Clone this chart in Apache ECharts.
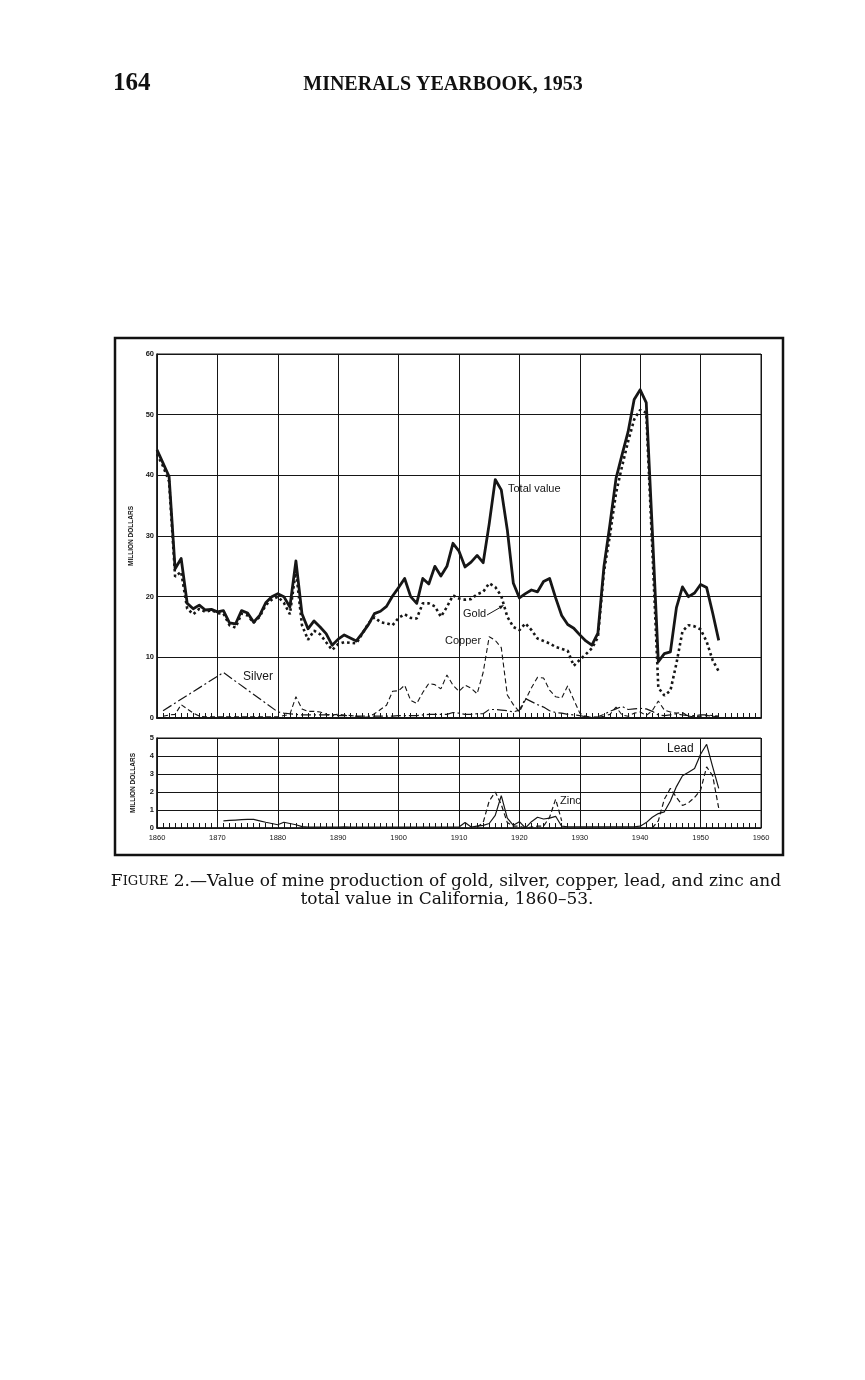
<!DOCTYPE html>
<html>
<head>
<meta charset="utf-8">
<script src="https://cdn.jsdelivr.net/npm/echarts@6/dist/echarts.min.js"></script>
<style>
  html, body { margin: 0; padding: 0; background: #fff; }
  #chart { width: 865px; height: 1380px; }
</style>
</head>
<body>
<div id="chart"></div>
<script>
// years 1860 - 1953
const years = [
  1860, 1861, 1862, 1863, 1864, 1865, 1866, 1867, 1868, 1869,
  1870, 1871, 1872, 1873, 1874, 1875, 1876, 1877, 1878, 1879,
  1880, 1881, 1882, 1883, 1884, 1885, 1886, 1887, 1888, 1889,
  1890, 1891, 1892, 1893, 1894, 1895, 1896, 1897, 1898, 1899,
  1900, 1901, 1902, 1903, 1904, 1905, 1906, 1907, 1908, 1909,
  1910, 1911, 1912, 1913, 1914, 1915, 1916, 1917, 1918, 1919,
  1920, 1921, 1922, 1923, 1924, 1925, 1926, 1927, 1928, 1929,
  1930, 1931, 1932, 1933, 1934, 1935, 1936, 1937, 1938, 1939,
  1940, 1941, 1942, 1943, 1944, 1945, 1946, 1947, 1948, 1949,
  1950, 1951, 1952, 1953
];

// million dollars, top panel
const totalValue = [
  44.2, 42.0, 39.8, 24.6, 26.3, 18.9, 18.0, 18.6, 17.8, 17.9,
  17.5, 17.7, 15.7, 15.5, 17.7, 17.3, 15.8, 16.9, 19.0, 20.0,
  20.5, 20.0, 18.3, 25.9, 17.2, 14.7, 16.0, 15.0, 13.9, 12.0,
  13.0, 13.7, 13.2, 12.7, 14.0, 15.4, 17.2, 17.6, 18.4, 20.1,
  21.5, 23.0, 20.0, 18.9, 23.0, 22.1, 25.0, 23.4, 25.0, 28.8,
  27.5, 24.9, 25.7, 26.8, 25.6, 32.0, 39.3, 37.6, 31.0, 22.2,
  19.8, 20.5, 21.1, 20.8, 22.5, 23.0, 19.8, 16.9, 15.4, 14.8,
  13.7, 12.7, 12.0, 14.0, 25.0, 32.0, 39.5, 43.4, 47.2, 52.5,
  54.1, 52.0, 31.0, 9.3, 10.6, 10.9, 18.2, 21.6, 20.0, 20.6,
  22.0, 21.5, 17.3, 12.8
];

const gold = [
  43.5, 41.5, 39.0, 23.3, 24.1, 18.0, 17.1, 18.0, 17.5, 17.8,
  17.3, 17.2, 15.3, 14.9, 17.2, 16.9, 15.7, 16.7, 18.6, 19.5,
  20.0, 19.0, 17.1, 24.4, 15.3, 12.9, 14.4, 13.8, 12.5, 11.2,
  12.2, 12.5, 12.4, 12.3, 13.9, 15.6, 16.6, 15.8, 15.6, 15.3,
  16.5, 17.1, 16.5, 16.4, 18.9, 18.9, 18.4, 16.7, 18.3, 20.2,
  19.7, 19.5, 19.6, 20.4, 20.8, 22.2, 21.6, 20.1, 16.7, 15.0,
  14.5, 15.6, 14.5, 13.1, 12.7, 12.3, 11.7, 11.4, 11.1, 8.6,
  9.6, 10.5, 11.5, 13.3, 24.1, 30.2, 37.1, 41.5, 45.6, 49.2,
  50.8, 50.3, 28.0, 5.0, 3.7, 4.5, 9.0, 14.3, 15.3, 15.1,
  14.6, 12.6, 9.5, 7.7
];

const copper = [
  null, 0.3, 0.5, 0.6, 2.2, 1.5, 0.8, 0.3, 0.2, 0.2,
  0.2, 0.2, 0.2, 0.2, 0.2, 0.2, 0.2, 0.2, 0.2, 0.2,
  0.2, 0.4, 0.6, 3.5, 1.5, 1.1, 1.1, 1.0, 0.6, 0.5,
  0.6, 0.5, 0.4, 0.3, 0.1, 0.2, 0.7, 1.4, 2.1, 4.4,
  4.5, 5.4, 2.9, 2.4, 4.2, 5.7, 5.5, 4.8, 7.1, 5.4,
  4.4, 5.4, 4.9, 4.0, 7.5, 13.4, 12.8, 11.6, 3.8, 2.2,
  1.0, 3.0, 5.0, 6.7, 6.6, 4.6, 3.5, 3.3, 5.3, 3.0,
  0.8, 0.3, 0.1, 0.1, 0.3, 0.6, 1.8, 0.5, 0.3, 0.8,
  1.0, 0.4, 1.2, 2.8, 1.3, 1.0, 0.8, 0.9, 0.3, 0.2,
  0.3, 0.4, 0.3, 0.2
];

// early silver is given only at 1861, 1871 and 1880
const silver = [
  null, 1.2, null, null, null, null, null, null, null, null,
  null, 7.5, null, null, null, null, null, null, null, null,
  1.0, 0.8, 0.7, 0.6, 0.5, 0.5, 0.5, 0.5, 0.5, 0.4,
  0.4, 0.4, 0.4, 0.3, 0.3, 0.3, 0.3, 0.3, 0.3, 0.3,
  0.4, 0.4, 0.4, 0.4, 0.5, 0.6, 0.6, 0.6, 0.6, 0.9,
  0.8, 0.6, 0.6, 0.7, 0.7, 1.4, 1.4, 1.3, 1.2, 1.0,
  1.3, 3.2, 2.7, 2.2, 1.8, 1.2, 0.9, 0.8, 0.6, 0.5,
  0.4, 0.2, 0.1, 0.2, 0.6, 1.1, 1.5, 1.9, 1.4, 1.5,
  1.6, 1.5, 1.1, 0.5, 0.4, 0.5, 0.7, 0.5, 0.4, 0.4,
  0.5, 0.5, 0.4, 0.3
];

// million dollars, bottom panel
const lead = [
  null, null, null, null, null, null, null, null, null, null,
  null, 0.40, 0.42, 0.44, 0.46, 0.48, 0.48, 0.40, 0.32, 0.25,
  0.18, 0.32, 0.25, 0.18, 0.08, 0.05, 0.05, 0.05, 0.05, 0.05,
  0.05, 0.06, 0.05, 0.05, 0.05, 0.05, 0.05, 0.05, 0.05, 0.05,
  0.05, 0.05, 0.05, 0.05, 0.05, 0.05, 0.05, 0.05, 0.05, 0.05,
  0.05, 0.30, 0.05, 0.10, 0.15, 0.25, 0.70, 1.80, 0.55, 0.15,
  0.35, 0.00, 0.35, 0.60, 0.50, 0.55, 0.65, 0.10, 0.07, 0.07,
  0.07, 0.07, 0.07, 0.07, 0.07, 0.07, 0.07, 0.07, 0.07, 0.07,
  0.10, 0.30, 0.60, 0.80, 0.90, 1.50, 2.30, 2.90, 3.10, 3.30,
  4.10, 4.65, 3.40, 2.20
];

const zinc = [
  null, null, null, null, null, null, null, null, null, null,
  null, null, null, null, null, null, null, null, null, null,
  null, null, null, null, null, null, null, null, null, null,
  null, null, null, null, null, null, null, null, null, null,
  null, null, null, null, null, null, null, null, null, null,
  null, null, null, 0.05, 0.3, 1.5, 2.0, 1.3, 0.3, 0.1,
  0.1, 0.0, 0.05, 0.1, 0.1, 0.6, 1.6, 0.4, null, null,
  null, null, null, null, null, null, null, null, null, null,
  null, null, 0.0, 0.4, 1.6, 2.2, 1.7, 1.25, 1.4, 1.7,
  2.1, 3.4, 2.9, 1.1
];

const topTicks = [0, 10, 20, 30, 40, 50, 60];
const bottomTicks = [0, 1, 2, 3, 4, 5];

const pairs = (vals) => years.map((y, i) => [y, vals[i]]);

const ink = "#161616";
const labelFont = "Liberation Sans";

const chart = echarts.init(document.getElementById("chart"), null, { renderer: "canvas" });

const xAxisBase = {
  type: "value",
  min: 1860,
  max: 1960,
  interval: 10,
  axisLine: { show: true, onZero: false, lineStyle: { color: ink, width: 2 } },
  axisTick: { show: true, inside: true, length: 5, lineStyle: { color: ink, width: 1 } },
  minorTick: { show: true, splitNumber: 10, length: 5, lineStyle: { color: ink, width: 1 } },
  splitLine: { show: true, lineStyle: { color: ink, width: 1 } },
};

const yAxisBase = {
  type: "value",
  axisLine: { show: true, lineStyle: { color: ink, width: 1.5 } },
  axisTick: { show: false },
  splitLine: { show: true, lineStyle: { color: ink, width: 1 } },
  axisLabel: { color: ink, fontSize: 7.5, fontWeight: "bold", fontFamily: labelFont, margin: 3 },
  name: "MILLION DOLLARS",
  nameLocation: "middle",
  nameRotate: 90,
  nameGap: 20,
  nameTextStyle: { color: ink, fontSize: 6.5, fontWeight: "bold", fontFamily: labelFont },
};

const text = (x, y, str, size, align) => ({
  type: "text",
  x: x,
  y: y,
  style: {
    text: str,
    fill: ink,
    font: size + "px '" + labelFont + "'",
    align: align || "left",
    verticalAlign: "middle",
  },
});

chart.setOption({
  animation: false,
  backgroundColor: "#fff",
  grid: [
    { left: 157, top: 354, width: 604, height: 364, show: true, borderColor: ink, borderWidth: 1 },
    { left: 157, top: 738, width: 604, height: 90, show: true, borderColor: ink, borderWidth: 1 },
  ],
  xAxis: [
    Object.assign({}, xAxisBase, { gridIndex: 0, axisLabel: { show: false } }),
    Object.assign({}, xAxisBase, {
      gridIndex: 1,
      axisLine: { show: true, onZero: false, lineStyle: { color: ink, width: 1.5 } },
      axisLabel: {
        show: true, color: ink, fontSize: 7.5, fontFamily: labelFont, margin: 6,
        formatter: (v) => String(v),
      },
    }),
  ],
  yAxis: [
    Object.assign({}, yAxisBase, { gridIndex: 0, min: topTicks[0], max: topTicks[topTicks.length - 1], interval: 10 }),
    Object.assign({}, yAxisBase, { gridIndex: 1, min: bottomTicks[0], max: bottomTicks[bottomTicks.length - 1], interval: 1 }),
  ],
  series: [
    {
      name: "Copper", type: "line", xAxisIndex: 0, yAxisIndex: 0, showSymbol: false, symbol: "none",
      lineStyle: { color: ink, width: 1.1, type: [5, 3] },
      data: pairs(copper),
    },
    {
      name: "Silver", type: "line", xAxisIndex: 0, yAxisIndex: 0, showSymbol: false, symbol: "none",
      connectNulls: true,
      lineStyle: { color: ink, width: 1.2, type: [10, 3, 2, 3] },
      data: pairs(silver),
    },
    {
      name: "Gold", type: "line", xAxisIndex: 0, yAxisIndex: 0, showSymbol: false, symbol: "none",
      lineStyle: { color: ink, width: 2.6, type: [2.6, 3] },
      data: pairs(gold),
    },
    {
      name: "Total value", type: "line", xAxisIndex: 0, yAxisIndex: 0, showSymbol: false, symbol: "none",
      lineStyle: { color: ink, width: 2.8, join: "round" },
      data: pairs(totalValue),
    },
    {
      name: "Zinc", type: "line", xAxisIndex: 1, yAxisIndex: 1, showSymbol: false, symbol: "none",
      lineStyle: { color: ink, width: 1.2, type: [5, 3] },
      data: pairs(zinc),
    },
    {
      name: "Lead", type: "line", xAxisIndex: 1, yAxisIndex: 1, showSymbol: false, symbol: "none",
      lineStyle: { color: ink, width: 1.2 },
      data: pairs(lead),
    },
  ],
  graphic: [
    // page header
    {
      type: "text", x: 113, y: 84,
      style: { text: "164", fill: "#111", font: "bold 25px 'Liberation Serif'", align: "left", verticalAlign: "middle" },
    },
    {
      type: "text", x: 443, y: 85,
      style: { text: "MINERALS YEARBOOK, 1953", fill: "#111", font: "bold 20px 'Liberation Serif'", align: "center", verticalAlign: "middle" },
    },
    // frame round the figure
    {
      type: "rect",
      shape: { x: 115, y: 338, width: 668, height: 517 },
      style: { fill: "none", stroke: "#111", lineWidth: 2.5 },
    },
    // series labels
    text(508, 489, "Total value", 11),
    text(463, 614, "Gold", 11),
    text(445, 641, "Copper", 11),
    text(243, 677, "Silver", 12),
    text(667, 749, "Lead", 12),
    text(560, 801, "Zinc", 11),
    {
      type: "line",
      shape: { x1: 487, y1: 615, x2: 501, y2: 607 },
      style: { stroke: ink, lineWidth: 1 },
    },
    {
      type: "polygon",
      shape: { points: [[504, 605], [500.7, 609.3], [498.7, 605.9]] },
      style: { fill: ink },
    },
    // caption
    {
      type: "text", x: 446, y: 882,
      style: {
        text: "{a|F}{b|IGURE} 2.—Value of mine production of gold, silver, copper, lead, and zinc and",
        fill: "#111", font: "17px 'DejaVu Serif'", align: "center", verticalAlign: "middle",
        rich: {
          a: { fontSize: 17, fontFamily: "DejaVu Serif", fill: "#111" },
          b: { fontSize: 13, fontFamily: "DejaVu Serif", fill: "#111" },
        },
      },
    },
    {
      type: "text", x: 447, y: 900,
      style: { text: "total value in California, 1860–53.", fill: "#111", font: "17px 'DejaVu Serif'", align: "center", verticalAlign: "middle" },
    },
  ],
});
</script>
</body>
</html>
